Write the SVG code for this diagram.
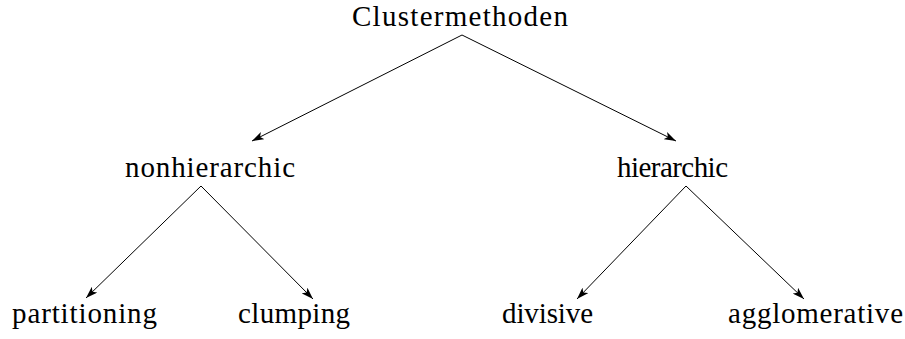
<svg xmlns="http://www.w3.org/2000/svg" width="905" height="339" viewBox="0 0 905 339">
<defs>
<style>
text{font-family:"Liberation Serif","Times New Roman",serif;font-size:29px;fill:#000;text-anchor:start}
.c line{stroke:#000;stroke-width:1;fill:none;marker-end:url(#ah)}
</style>
<marker id="ah" viewBox="0 0 12 8" refX="12" refY="4" markerWidth="12" markerHeight="8" markerUnits="userSpaceOnUse" orient="auto">
<path d="M0,0 L12,4 L0,8 L3,4 Z" fill="#000"/>
</marker>
</defs>
<rect width="905" height="339" fill="#fff"/>
<g id="n-clustermethoden"><text x="352" y="26" textLength="216" lengthAdjust="spacing">Clustermethoden</text></g>
<g id="n-nonhierarchic"><text x="125" y="177" textLength="170" lengthAdjust="spacing">nonhierarchic</text></g>
<g id="n-hierarchic"><text x="617" y="177" textLength="111" lengthAdjust="spacing">hierarchic</text></g>
<g id="n-partitioning"><text x="12" y="323" textLength="145" lengthAdjust="spacing">partitioning</text></g>
<g id="n-clumping"><text x="238" y="323" textLength="112" lengthAdjust="spacing">clumping</text></g>
<g id="n-divisive"><text x="502" y="323" textLength="91" lengthAdjust="spacing">divisive</text></g>
<g id="n-agglomerative"><text x="728" y="323" textLength="175" lengthAdjust="spacing">agglomerative</text></g>
<g class="c" id="connectors">
<line x1="462" y1="35" x2="252" y2="141"/>
<line x1="462" y1="35" x2="676" y2="141"/>
<line x1="201" y1="186" x2="86" y2="298"/>
<line x1="201" y1="186" x2="313" y2="299"/>
<line x1="686" y1="186" x2="577" y2="299"/>
<line x1="686" y1="186" x2="804" y2="299"/>
</g>
</svg>
